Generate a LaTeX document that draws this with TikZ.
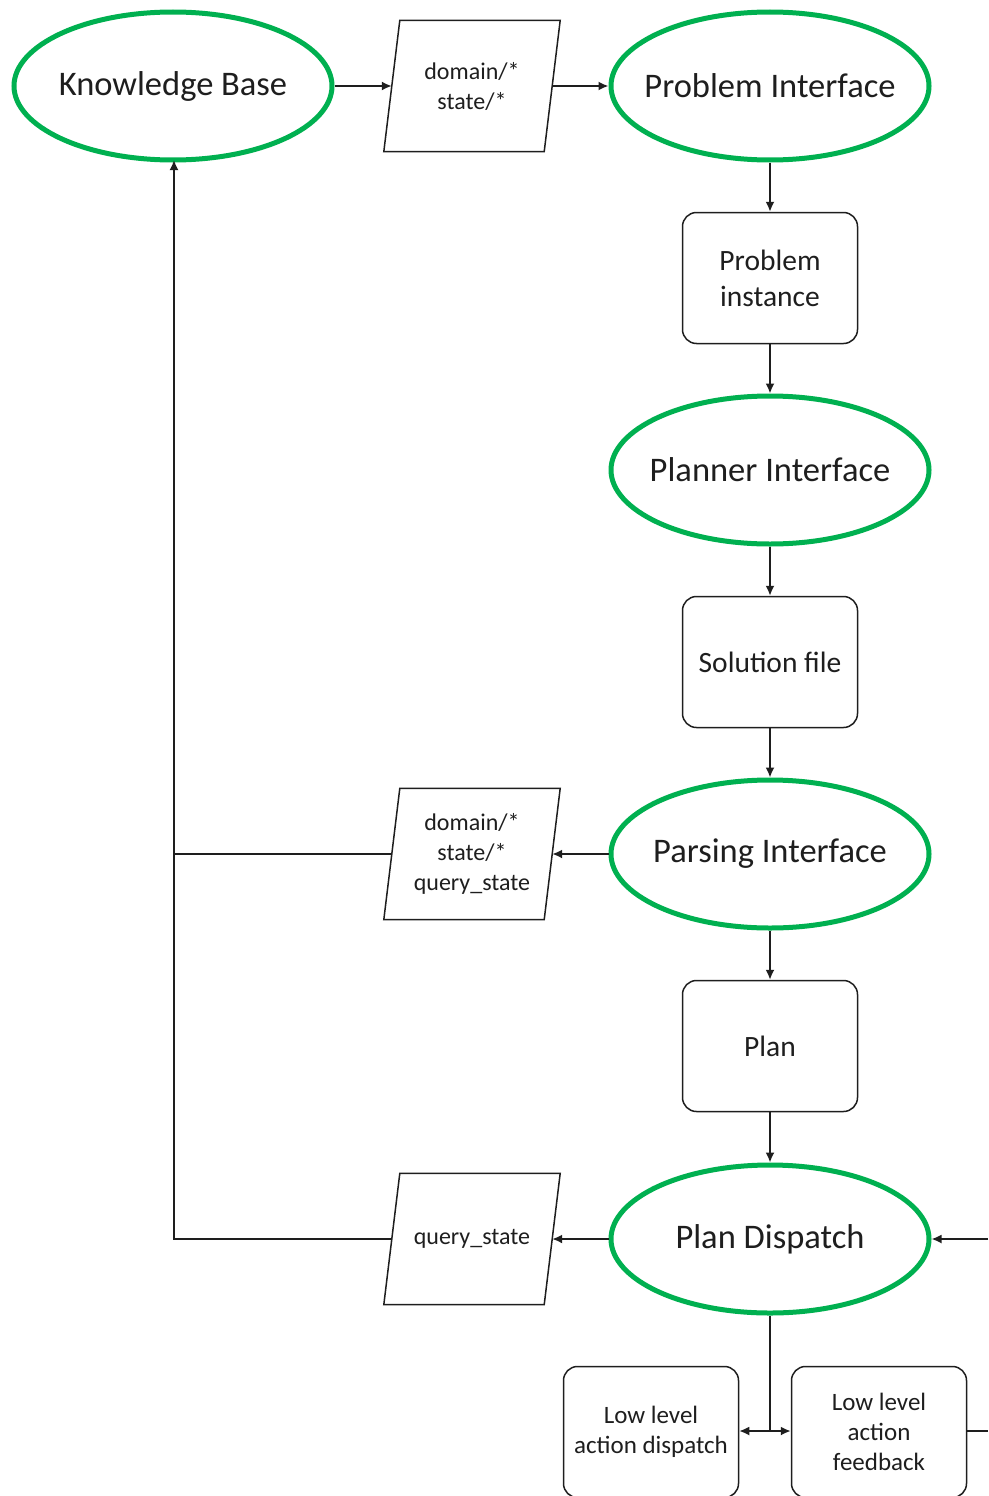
\documentclass[tikz,border=0pt]{standalone}
\usepackage{fontspec}
\setmainfont{Carlito}
\usetikzlibrary{shapes.geometric,arrows.meta}
\definecolor{ifgreen}{RGB}{0,176,80}
\definecolor{ink}{RGB}{30,30,30}
% zero-width label so the ellipse keeps its fixed size
\newcommand\flatlabel[1]{\makebox[0pt][c]{#1}}
\begin{document}
\begin{tikzpicture}[x=1pt,y=-1pt,
  iface/.style={ellipse,draw=ifgreen,line width=5pt,minimum width=318pt,minimum height=148pt,
    inner sep=0pt,text=ink,font=\fontsize{34.5}{40}\selectfont},
  artifact/.style={draw=ink,line width=1.5pt,rounded corners=14pt,minimum width=175pt,minimum height=131pt,
    inner sep=0pt,align=center,text=ink,font=\fontsize{29.5}{36}\selectfont},
  lowbox/.style={artifact,font=\fontsize{25}{30}\selectfont},
  msg/.style={rectangle,minimum width=160pt,minimum height=131pt,inner sep=0pt,
    align=center,text=ink,font=\fontsize{24}{30}\selectfont},
  msgframe/.style={draw=ink,line width=1.5pt,line join=miter},
  link/.style={draw=ink,line width=1.8pt},
  flow/.style={link,-{Latex[length=10pt,width=9pt]}}
]
\useasboundingbox (0,0) rectangle (988,1496);
\clip (0,0) rectangle (988,1496);

% interfaces
\node[iface] (kb)   at (173,86)   {\flatlabel{Knowledge Base}};
\node[iface] (pi)   at (770,86)   {\flatlabel{Problem Interface}};
\node[iface] (plni) at (770,470)  {\flatlabel{Planner Interface}};
\node[iface] (prs)  at (770,854)  {\flatlabel{Parsing Interface}};
\node[iface] (pd)   at (770,1239) {\flatlabel{Plan Dispatch}};

% artifacts
\node[artifact] (inst) at (770,278)  {Problem\\instance};
\node[artifact] (sol)  at (770,662)  {Solution file};
\node[artifact] (plan) at (770,1046) {Plan};
\node[lowbox] (lld) at (651,1432) {Low level\\action dispatch};
\node[lowbox] (llf) at (879,1432) {Low level\\action\\feedback};

% messages (parallelogram outlines drawn around the text nodes)
\node[msg] (m1) at (472,86)   {domain/*\\state/*};
\node[msg] (m2) at (472,854)  {domain/*\\state/*\\query\_state};
\node[msg] (m3) at (472,1239) {query\_state};
\foreach \m in {m1,m2,m3}
  \draw[msgframe] ([xshift=8pt]\m.north west) -- ([xshift=8pt]\m.north east)
    -- ([xshift=-8pt]\m.south east) -- ([xshift=-8pt]\m.south west) -- cycle;

% junctions and edge points
\coordinate (kbbus) at (174,160);
\coordinate (c2) at (174,854);
\coordinate (c3) at (174,1239);
\coordinate (split) at (770,1431);
\coordinate (extin) at (988,1239);
\coordinate (extout) at (988,1431);

% main chain
\draw[flow] (kb.east) -- (m1.west);
\draw[flow] (m1.east) -- (pi.west);
\draw[flow] (pi.south) -- (inst.north);
\draw[flow] (inst.south) -- (plni.north);
\draw[flow] (plni.south) -- (sol.north);
\draw[flow] (sol.south) -- (prs.north);
\draw[flow] (prs.south) -- (plan.north);
\draw[flow] (plan.south) -- (pd.north);

% feedback to the knowledge base
\draw[flow] (prs.west) -- (m2.east);
\draw[flow] (pd.west) -- (m3.east);
\draw[link] (m2.west) -- (c2);
\draw[flow] (m3.west) -- (c3) -- (kbbus);

% low level dispatch
\draw[link] (pd.south) -- (split);
\draw[flow] (split) -- (lld.east |- split);
\draw[flow] (split) -- (llf.west |- split);
\draw[link] (llf.east |- extout) -- (extout);
\draw[flow] (extin) -- (pd.east);
\end{tikzpicture}
\end{document}
